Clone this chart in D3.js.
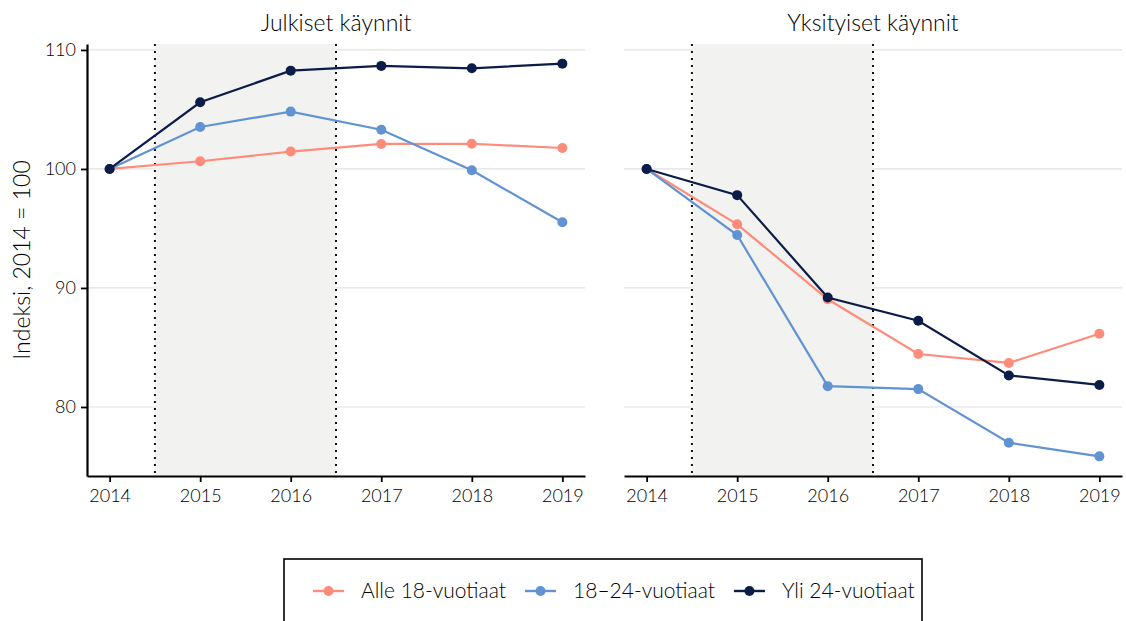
<!DOCTYPE html>
<html lang="fi">
<head>
<meta charset="UTF-8">
<title>Käynnit</title>
<script src="https://cdn.jsdelivr.net/npm/d3@7/dist/d3.min.js"></script>
<style>
    body { margin: 0; background: #fff; }
    svg text { font-family: "Lato", "DejaVu Sans", sans-serif; font-weight: 300; fill: #000; }
</style>
</head>
<body>
<svg id="chart" width="1126" height="621"></svg>
<script>
// data
var years = [2014, 2015, 2016, 2017, 2018, 2019];
var panelTitles = ["Julkiset käynnit", "Yksityiset käynnit"];
var groups = ["Alle 18-vuotiaat", "18–24-vuotiaat", "Yli 24-vuotiaat"];
var colors = ["#fd8c7b", "#6193d3", "#0c1c48"];
var yTicks = [80, 90, 100, 110];
var shadeFrom = 2014.5, shadeTo = 2016.5;

var julkisetAlle18 = [100, 100.65, 101.46, 102.1, 102.12, 101.76];
var julkiset18to24 = [100, 103.53, 104.82, 103.3, 99.89, 95.52];
var julkisetYli24 = [100, 105.6, 108.26, 108.66, 108.46, 108.85];

var yksityisetAlle18 = [100, 95.35, 89.05, 84.45, 83.7, 86.15];
var yksityiset18to24 = [100, 94.45, 81.75, 81.5, 77.0, 75.85];
var yksityisetYli24 = [100, 97.8, 89.2, 87.25, 82.65, 81.85];

var panelData = [
    [julkisetAlle18, julkiset18to24, julkisetYli24],
    [yksityisetAlle18, yksityiset18to24, yksityisetYli24]
];

(function () {
    var svg = d3.select("#chart");
    var plotTop = 44, plotBottom = 476;
    var panelX = [[87, 585], [624, 1122]];

    // shared y scale, 5% padding like ggplot
    var all = d3.merge(panelData.map(function (p) { return d3.merge(p); }));
    var ext = d3.extent(all), pad = (ext[1] - ext[0]) * 0.05;
    var y = d3.scaleLinear().domain([ext[0] - pad, ext[1] + pad]).range([plotBottom, plotTop]);

    panelData.forEach(function (series, pi) {
        var x = d3.scaleLinear()
            .domain([years[0] - 0.25, years[years.length - 1] + 0.25])
            .range(panelX[pi]);
        var g = svg.append("g");

        // grid
        g.selectAll(".grid").data(yTicks).enter().append("line")
            .attr("x1", panelX[pi][0]).attr("x2", panelX[pi][1])
            .attr("y1", y).attr("y2", y)
            .attr("stroke", "#e2e2e2").attr("stroke-width", 1.2);

        // shaded period
        g.append("rect")
            .attr("x", x(shadeFrom)).attr("y", plotTop)
            .attr("width", x(shadeTo) - x(shadeFrom)).attr("height", plotBottom - plotTop)
            .attr("fill", "#f2f2f0");
        g.selectAll(".vline").data([shadeFrom, shadeTo]).enter().append("line")
            .attr("x1", x).attr("x2", x).attr("y1", plotTop).attr("y2", plotBottom)
            .attr("stroke", "#111").attr("stroke-width", 2)
            .attr("stroke-dasharray", "2,5");

        // x axis
        var xa = g.append("g")
            .attr("transform", "translate(0," + plotBottom + ")")
            .call(d3.axisBottom(x).tickValues(years).tickFormat(d3.format("d")).tickSize(6).tickSizeOuter(0));
        xa.select(".domain").attr("stroke", "#000").attr("stroke-width", 2.2);
        xa.selectAll(".tick line").attr("stroke", "#000").attr("stroke-width", 1.8);
        xa.selectAll(".tick text").attr("font-size", 18).attr("y", 10).attr("dy", "0.9em").attr("fill", "#000");

        if (pi === 0) {
            var ya = g.append("g")
                .attr("transform", "translate(" + panelX[0][0] + ",0)")
                .call(d3.axisLeft(y).tickValues(yTicks).tickSize(6).tickSizeOuter(0));
            ya.select(".domain").attr("stroke", "#000").attr("stroke-width", 2.2);
            ya.selectAll(".tick line").attr("stroke", "#000").attr("stroke-width", 1.8);
            ya.selectAll(".tick text").attr("font-size", 18).attr("x", -11).attr("fill", "#000");
        }

        // lines and points
        var line = d3.line()
            .x(function (d, i) { return x(years[i]); })
            .y(function (d) { return y(d); });
        series.forEach(function (vals, si) {
            g.append("path").datum(vals)
                .attr("fill", "none").attr("stroke", colors[si])
                .attr("stroke-width", 2.2).attr("d", line);
            g.selectAll(".pt" + si).data(vals).enter().append("circle")
                .attr("cx", function (d, i) { return x(years[i]); })
                .attr("cy", y).attr("r", 5)
                .attr("fill", colors[si]);
        });

        // panel title
        svg.append("text")
            .attr("x", (panelX[pi][0] + panelX[pi][1]) / 2).attr("y", 31)
            .attr("text-anchor", "middle").attr("font-size", 23)
            .text(panelTitles[pi]);
    });

    // y label
    svg.append("text")
        .attr("transform", "translate(30," + (plotTop + plotBottom) / 2 + ") rotate(-90)")
        .attr("text-anchor", "middle").attr("font-size", 23)
        .text("Indeksi, 2014 = 100");

    // legend
    var legend = svg.append("g");
    legend.append("rect")
        .attr("x", 284).attr("y", 559).attr("width", 638).attr("height", 80)
        .attr("fill", "#fff").attr("stroke", "#000").attr("stroke-width", 1.6);
    var items = legend.selectAll(".item").data(groups).enter().append("g");
    items.each(function (d, i) {
        var it = d3.select(this);
        it.append("line").attr("x1", 0).attr("x2", 31).attr("y1", 0).attr("y2", 0)
            .attr("stroke", colors[i]).attr("stroke-width", 2.4);
        it.append("circle").attr("cx", 15.5).attr("cy", 0).attr("r", 5).attr("fill", colors[i]);
        it.append("text").attr("x", 48).attr("y", 0).attr("dy", "0.35em")
            .attr("font-size", 21).text(d);
    });
    var pos = 313;
    items.attr("transform", function () {
        var t = "translate(" + pos + ",591)";
        pos += 48 + d3.select(this).select("text").node().getComputedTextLength() + 19;
        return t;
    });
})();
</script>
</body>
</html>
